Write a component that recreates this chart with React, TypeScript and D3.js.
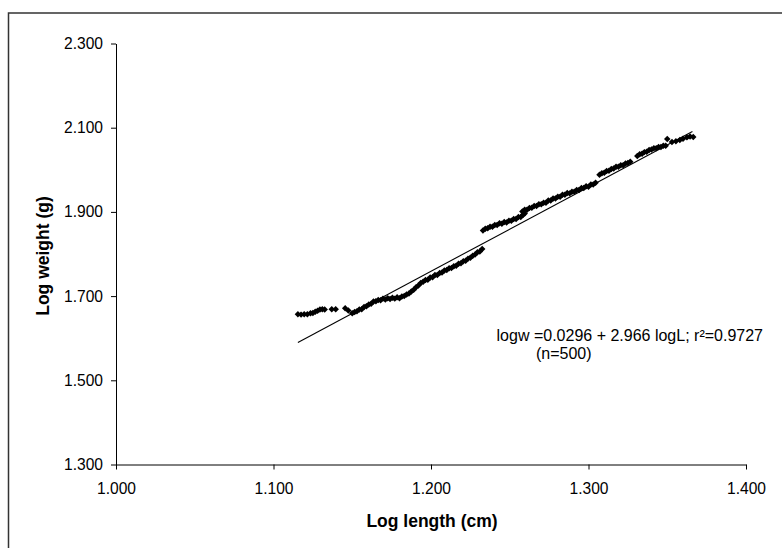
import React, { useEffect, useRef } from 'react';
import * as d3 from 'd3';

const runStart: [number, number][] = [
  [1.1155, 1.657], [1.1175, 1.656], [1.1195, 1.657], [1.1215, 1.657], [1.1235, 1.659],
  [1.125, 1.660], [1.1265, 1.663], [1.128, 1.665], [1.1295, 1.668], [1.131, 1.669],
  [1.1325, 1.668], [1.137, 1.669], [1.1395, 1.669], [1.1455, 1.671], [1.1475, 1.666],
];

const runLower: [number, number][] = [
  [1.150, 1.659], [1.1515, 1.662], [1.153, 1.664], [1.1545, 1.668], [1.156, 1.669],
  [1.1575, 1.674], [1.159, 1.676], [1.1605, 1.680], [1.162, 1.682], [1.1635, 1.687],
  [1.165, 1.688], [1.1665, 1.691], [1.168, 1.690], [1.1695, 1.694], [1.171, 1.692],
  [1.1725, 1.695], [1.174, 1.693], [1.1755, 1.696], [1.177, 1.694], [1.1785, 1.697],
  [1.180, 1.695], [1.1815, 1.699], [1.183, 1.700], [1.1845, 1.704], [1.186, 1.706],
  [1.1875, 1.711], [1.189, 1.715], [1.1905, 1.721], [1.192, 1.725], [1.1935, 1.731],
  [1.195, 1.734], [1.1965, 1.738], [1.198, 1.739], [1.1995, 1.744], [1.201, 1.745],
  [1.2025, 1.750], [1.204, 1.750], [1.2055, 1.755], [1.207, 1.756], [1.2085, 1.761],
  [1.210, 1.762], [1.2115, 1.766], [1.213, 1.767], [1.2145, 1.771], [1.216, 1.772],
  [1.2175, 1.777], [1.219, 1.778], [1.2205, 1.783], [1.222, 1.784], [1.2235, 1.789],
  [1.225, 1.791], [1.2265, 1.796], [1.228, 1.799], [1.2295, 1.804], [1.231, 1.806],
  [1.2325, 1.812],
];

const runMiddle: [number, number][] = [
  [1.233, 1.856], [1.2345, 1.860], [1.236, 1.861], [1.2375, 1.865], [1.239, 1.865],
  [1.2405, 1.869], [1.242, 1.869], [1.2435, 1.873], [1.245, 1.872], [1.2465, 1.876],
  [1.248, 1.875], [1.2495, 1.879], [1.251, 1.879], [1.2525, 1.883], [1.254, 1.883],
  [1.2555, 1.888], [1.257, 1.888], [1.2585, 1.893], [1.2595, 1.896],
  [1.258, 1.901], [1.2595, 1.905], [1.261, 1.905], [1.2625, 1.909], [1.264, 1.910],
  [1.2655, 1.914], [1.267, 1.914], [1.2685, 1.918], [1.270, 1.918], [1.2715, 1.922],
  [1.273, 1.922], [1.2745, 1.927], [1.276, 1.927], [1.2775, 1.932], [1.279, 1.932],
  [1.2805, 1.936], [1.282, 1.936], [1.2835, 1.941], [1.285, 1.941], [1.2865, 1.945],
  [1.288, 1.944], [1.2895, 1.948], [1.291, 1.948], [1.2925, 1.952], [1.294, 1.952],
  [1.2955, 1.957], [1.297, 1.957], [1.2985, 1.961], [1.300, 1.960], [1.3015, 1.965],
  [1.303, 1.965], [1.3045, 1.969],
];

const runUpper: [number, number][] = [
  [1.307, 1.988], [1.3085, 1.992], [1.310, 1.993], [1.3115, 1.997], [1.313, 1.998],
  [1.3145, 2.002], [1.316, 2.003], [1.3175, 2.007], [1.319, 2.007], [1.3205, 2.011],
  [1.322, 2.011], [1.3235, 2.015], [1.325, 2.016], [1.3265, 2.019],
  [1.331, 2.033], [1.3325, 2.037], [1.334, 2.038], [1.3355, 2.042], [1.337, 2.043],
  [1.3385, 2.047], [1.340, 2.048], [1.3415, 2.051], [1.343, 2.051], [1.3445, 2.054],
  [1.346, 2.054], [1.3475, 2.057], [1.349, 2.057],
];

const runTop: [number, number][] = [
  [1.350, 2.073], [1.353, 2.066], [1.3555, 2.068], [1.358, 2.071], [1.360, 2.074],
  [1.3625, 2.077], [1.3645, 2.079], [1.3665, 2.078],
];

// fitted regression line ends
const fitX = [1.1155, 1.366];
const fitY = [1.590, 2.091];

const xTicks = [1.0, 1.1, 1.2, 1.3, 1.4];
const yTicks = [1.3, 1.5, 1.7, 1.9, 2.1, 2.3];

const equation = 'logw =0.0296 + 2.966 logL; r²=0.9727';
const sampleNote = '(n=500)';

const FONT = '"Liberation Sans", Arial, Helvetica, sans-serif';

export default function App() {
  const svgRef = useRef<SVGSVGElement | null>(null);

  useEffect(() => {
    if (!svgRef.current) return;
    const svg = d3.select(svgRef.current);
    svg.selectAll('*').remove();

    const x = d3.scaleLinear().domain([1.0, 1.4]).range([116, 746]);
    const y = d3.scaleLinear().domain([1.3, 2.3]).range([464.5, 43.5]);
    const fmt = d3.format('.3f');

    // chart frame (runs off the right / bottom edge)
    svg.append('rect')
      .attr('x', 8.5).attr('y', 13)
      .attr('width', 1000).attr('height', 1000)
      .attr('fill', 'none')
      .attr('stroke', '#333')
      .attr('stroke-width', 1.5);

    const styleAxis = (s: d3.Selection<SVGGElement, unknown, null, undefined>) => {
      s.attr('font-family', FONT).attr('font-size', 15.6);
      s.select('.domain').attr('stroke', '#000');
      s.selectAll('.tick line').attr('stroke', '#000');
      s.selectAll('.tick text').attr('fill', '#000');
    };

    svg.append('g')
      .attr('transform', 'translate(116,0)')
      .call(d3.axisLeft(y).tickValues(yTicks).tickFormat(v => fmt(+v)).tickSize(5).tickSizeOuter(0).tickPadding(8))
      .call(styleAxis);

    svg.append('g')
      .attr('transform', 'translate(0,464.5)')
      .call(d3.axisBottom(x).tickValues(xTicks).tickFormat(v => fmt(+v)).tickSize(5).tickSizeOuter(0).tickPadding(13))
      .call(styleAxis);

    // regression line
    const fitPts = fitX.map((v, i) => [v, fitY[i]] as [number, number]);
    svg.append('path')
      .datum(fitPts)
      .attr('d', d3.line<[number, number]>().x(d => x(d[0])).y(d => y(d[1])))
      .attr('fill', 'none')
      .attr('stroke', '#000')
      .attr('stroke-width', 1.1);

    // observations as small diamonds
    const obs = [...runStart, ...runLower, ...runMiddle, ...runUpper, ...runTop];
    const diamond = d3.symbol().type(d3.symbolSquare).size(21)();
    svg.append('g')
      .selectAll('path.pt')
      .data(obs)
      .enter()
      .append('path')
      .attr('class', 'pt')
      .attr('d', diamond)
      .attr('transform', d => `translate(${x(d[0])},${y(d[1])}) rotate(45)`)
      .attr('fill', '#000');

    // axis titles
    svg.append('text')
      .attr('x', 432).attr('y', 527)
      .attr('text-anchor', 'middle')
      .attr('font-family', FONT)
      .attr('font-size', 17.5)
      .attr('font-weight', 'bold')
      .text('Log length (cm)');

    svg.append('text')
      .attr('transform', 'translate(49,256) rotate(-90)')
      .attr('text-anchor', 'middle')
      .attr('font-family', FONT)
      .attr('font-size', 17.5)
      .attr('font-weight', 'bold')
      .text('Log weight (g)');

    // regression annotation
    svg.append('text')
      .attr('x', 763).attr('y', 341)
      .attr('text-anchor', 'end')
      .attr('font-family', FONT)
      .attr('font-size', 16)
      .text(equation);

    svg.append('text')
      .attr('x', 536).attr('y', 359)
      .attr('font-family', FONT)
      .attr('font-size', 16)
      .text(sampleNote);
  }, []);

  return (
    <svg
      ref={svgRef}
      width={782}
      height={548}
      style={{ position: 'absolute', left: 0, top: 0, background: '#fff' }}
    />
  );
}
